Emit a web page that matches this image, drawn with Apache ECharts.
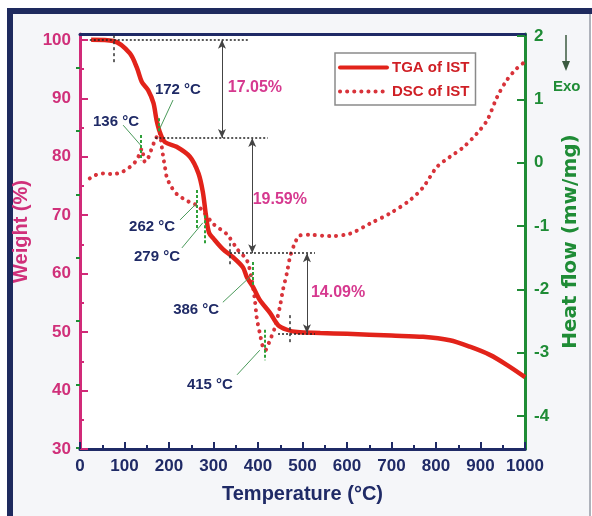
<!DOCTYPE html>
<html>
<head>
<meta charset="utf-8">
<script src="https://cdn.jsdelivr.net/npm/echarts@6/dist/echarts.min.js"></script>
<style>
html,body{margin:0;padding:0;background:#fff;}
#chart{width:592px;height:516px;}
</style>
</head>
<body>
<div id="chart"></div>
<script>
// ---- Data ----
const tgaTemp = [25, 75, 112, 128, 139, 153, 165, 172, 180, 191, 217, 247, 266, 276, 283, 290, 300, 321, 344, 366, 375, 389, 404, 427, 445, 465, 488, 540, 600, 700, 771, 831, 876, 921, 959, 1000];
const tgaWeight = [100, 99.8, 97.7, 95.2, 92.8, 91.4, 89.2, 86.3, 84.1, 82.5, 81.7, 80.0, 77.2, 74.0, 70.0, 67.0, 66.0, 64.2, 62.8, 61.1, 59.4, 57.7, 55.5, 53.3, 51.2, 50.4, 50.0, 49.85, 49.7, 49.4, 49.2, 48.6, 47.5, 46.1, 44.4, 42.3];

const dscTemp = [22, 34, 52, 74, 94, 112, 124, 133, 139, 146, 153, 160, 166, 172, 178, 184, 187, 191, 195, 205, 218, 235, 251, 262, 277, 300, 330, 355, 375, 386, 393, 397, 404, 411, 416, 427, 438, 449, 456, 465, 472, 483, 494, 517, 562, 607, 652, 697, 742, 771, 802, 831, 861, 892, 915, 937, 959, 982, 996];
const dscHeat = [-0.25, -0.20, -0.17, -0.18, -0.15, -0.07, 0.01, 0.12, 0.22, 0.01, 0.07, 0.20, 0.31, 0.40, 0.48, 0.24, 0.09, -0.07, -0.23, -0.38, -0.50, -0.58, -0.64, -0.67, -0.77, -0.97, -1.13, -1.38, -1.54, -1.85, -2.17, -2.44, -2.69, -2.91, -2.96, -2.80, -2.60, -2.28, -2.01, -1.74, -1.49, -1.27, -1.15, -1.14, -1.16, -1.12, -0.96, -0.80, -0.59, -0.39, -0.07, 0.09, 0.24, 0.46, 0.67, 1.03, 1.30, 1.49, 1.57];

const xTicks = [0, 100, 200, 300, 400, 500, 600, 700, 800, 900, 1000];
const weightTicks = [30, 40, 50, 60, 70, 80, 90, 100];
const weightMinor = [35, 45, 55, 65, 75, 85, 95];
const heatTicks = [-4, -3, -2, -1, 0, 1, 2];
const heatMinor = [-4.5, -3.5, -2.5, -1.5, -0.5, 0.5, 1.5];

// Weight-loss annotations: [temperature of arrow, upper weight, lower weight]
const lossSteps = [[319, 100, 83.2], [387, 83.2, 63.5], [510, 63.5, 49.8]];
const lossLabels = ['17.05%', '19.59%', '14.09%'];
const lossLabelPos = [[393, 91.8], [449, 72.6], [580, 56.7]];
// Level guide lines: [weight, from T, to T]
const levelLines = [[100, 22, 377], [83.2, 169, 422], [63.5, 337, 528], [49.7, 445, 528]];
// onset markers: [T, W top, W bottom]
const onsetMarks = [[75, 100.8, 95.7], [337, 65.2, 61.5], [472, 52.9, 47.8]];

// Peak temperature annotations
const peakLabels = ['136 °C', '172 °C', '262 °C', '279 °C', '386 °C', '415 °C'];
const peakLabelPos = [[81, 85.9], [220, 91.4], [162, 68.0], [173, 62.8], [261, 53.8], [292, 40.9]];
const peakLeaders = [[[97, 85.4], [136, 82.0]], [[209, 89.7], [178, 84.6]], [[225, 69.2], [263, 72.1]], [[229, 64.4], [276, 68.7]], [[321, 55.1], [387, 59.8]], [[353, 42.7], [404, 46.9]]];
const peakMarks = [[136, 83.7, 79.4], [178, 86.6, 84.0], [263, 74.3, 67.5], [281, 70.0, 65.0], [389, 62.0, 58.0], [416, 50.4, 45.2]];

// ---- Styles ----
const FONT = 'Arial, "Liberation Sans", sans-serif';
const NAVY = '#1f2a66';
const PINK = '#d0307a';
const GREEN = '#1f8c36';
const RED = '#e2231a';
const DSCRED = '#d8333a';
const MAG = '#d6398f';

const markLineData = [];
levelLines.forEach(l => {
  markLineData.push([{coord: [l[1], l[0]], lineStyle: {color: '#222', type: [2, 2], width: 1.5}}, {coord: [l[2], l[0]]}]);
});
lossSteps.forEach(s => {
  markLineData.push([{coord: [s[0], s[1]], symbol: 'arrow', symbolSize: [6, 9], lineStyle: {color: '#444', type: 'solid', width: 1}},
                     {coord: [s[0], s[2]], symbol: 'arrow', symbolSize: [6, 9]}]);
});
onsetMarks.forEach(m => {
  markLineData.push([{coord: [m[0], m[1]], lineStyle: {color: '#333', type: [3, 3], width: 1.5}}, {coord: [m[0], m[2]]}]);
});
peakLeaders.forEach(p => {
  markLineData.push([{coord: p[0], lineStyle: {color: '#4a9a5a', type: 'solid', width: 1}}, {coord: p[1]}]);
});
peakMarks.forEach(m => {
  markLineData.push([{coord: [m[0], m[1]], lineStyle: {color: '#2fa03a', type: [3, 2], width: 2}}, {coord: [m[0], m[2]]}]);
});

const markPointData = [];
lossLabels.forEach((t, i) => {
  markPointData.push({coord: lossLabelPos[i], value: t, label: {formatter: t, color: MAG, fontSize: 16}});
});
peakLabels.forEach((t, i) => {
  markPointData.push({coord: peakLabelPos[i], value: t, label: {formatter: t, color: NAVY, fontSize: 15}});
});

const chart = echarts.init(document.getElementById('chart'), null, {renderer: 'canvas'});
chart.setOption({
  animation: false,
  textStyle: {fontFamily: FONT},
  grid: {left: 80, right: 67, top: 34, bottom: 67, show: true, backgroundColor: '#fff', borderWidth: 0},
  graphic: [
    {type: 'rect', z: -20, shape: {x: 0, y: 0, width: 592, height: 516}, style: {fill: '#fff'}},
    {type: 'rect', z: -19, shape: {x: 13, y: 14, width: 576, height: 502}, style: {fill: '#f5f6f9'}},
    {type: 'rect', z: -18, shape: {x: 7, y: 8, width: 585, height: 6}, style: {fill: '#1e2a5e'}},
    {type: 'rect', z: -18, shape: {x: 7, y: 8, width: 6, height: 508}, style: {fill: '#1e2a5e'}},
    {type: 'rect', z: -18, shape: {x: 589, y: 14, width: 2, height: 502}, style: {fill: '#aeb2bb'}},
    {type: 'line', shape: {x1: 566, y1: 35, x2: 566, y2: 63}, style: {stroke: '#3b5a40', lineWidth: 1.5}},
    {type: 'polygon', shape: {points: [[562, 61], [570, 61], [566, 71]]}, style: {fill: '#3b5a40'}},
    {type: 'text', x: 553, y: 79, style: {text: 'Exo', fill: GREEN, font: 'bold 15px ' + FONT}}
  ],
  legend: {
    data: ['TGA of IST', 'DSC of IST'],
    orient: 'vertical',
    left: 335, top: 53,
    padding: [7, 6, 6, 3],
    itemGap: 9,
    itemWidth: 47, itemHeight: 14,
    itemStyle: {opacity: 0},
    lineStyle: {width: 4, cap: 'round'},
    backgroundColor: '#fff',
    borderColor: '#8a8a8a', borderWidth: 1.5,
    textStyle: {color: '#cf1f25', fontWeight: 'bold', fontSize: 15, fontFamily: FONT}
  },
  xAxis: [
    {
      type: 'value', position: 'bottom', min: 0, max: 1000, interval: 100,
      name: 'Temperature (°C)', nameLocation: 'middle', nameGap: 35,
      nameTextStyle: {color: NAVY, fontSize: 20, fontWeight: 'bold', fontFamily: FONT},
      axisLine: {show: true, onZero: false, lineStyle: {color: NAVY, width: 3}},
      axisTick: {show: true, inside: true, length: 7, lineStyle: {color: NAVY, width: 2}},
      minorTick: {show: true, splitNumber: 2, length: 4, lineStyle: {color: NAVY, width: 2}},
      axisLabel: {color: NAVY, fontSize: 17, fontWeight: 'bold', margin: 9, fontFamily: FONT, formatter: v => String(v)},
      splitLine: {show: false}
    },
    {
      type: 'value', position: 'top', min: 0, max: 1000,
      axisLine: {show: true, onZero: false, lineStyle: {color: NAVY, width: 3}},
      axisTick: {show: false}, axisLabel: {show: false}, splitLine: {show: false}
    }
  ],
  yAxis: [
    {
      type: 'value', position: 'left', min: 30, max: 101,
      name: 'Weight (%)', nameLocation: 'middle', nameGap: 40, nameRotate: 90,
      nameTextStyle: {color: PINK, fontSize: 20, fontWeight: 'bold', fontFamily: FONT, padding: [0, 0, 0, 20]},
      axisLine: {show: true, onZero: false, lineStyle: {color: '#d12a78', width: 3}},
      axisTick: {show: true, inside: true, length: 8, customValues: weightTicks, lineStyle: {color: '#d12a78', width: 2}},
      axisLabel: {color: PINK, fontSize: 17, fontWeight: 'bold', margin: 9, customValues: weightTicks, fontFamily: FONT},
      splitLine: {show: false}
    },
    {
      type: 'value', position: 'right', min: -4.52, max: 2.03,
      name: 'Heat flow (mw/mg)', nameLocation: 'middle', nameGap: 36, nameRotate: 90,
      nameTextStyle: {color: GREEN, fontSize: 20, fontWeight: 'bold', fontFamily: '"DejaVu Sans", sans-serif'},
      axisLine: {show: true, onZero: false, lineStyle: {color: GREEN, width: 3}},
      axisTick: {show: true, inside: true, length: 8, customValues: heatTicks, lineStyle: {color: GREEN, width: 2}},
      axisLabel: {color: GREEN, fontSize: 17, fontWeight: 'bold', margin: 9, customValues: heatTicks, fontFamily: FONT},
      splitLine: {show: false}
    },
    {
      type: 'value', position: 'left', min: 30, max: 101,
      axisLine: {show: false},
      axisTick: {show: true, inside: true, length: 4, customValues: weightMinor, lineStyle: {color: '#d12a78', width: 2}},
      axisLabel: {show: false}, splitLine: {show: false}
    },
    {
      type: 'value', position: 'right', min: -4.52, max: 2.03,
      axisLine: {show: false},
      axisTick: {show: true, inside: true, length: 4, customValues: heatMinor, lineStyle: {color: GREEN, width: 2}},
      axisLabel: {show: false}, splitLine: {show: false}
    }
  ],
  series: [
    {
      name: 'DSC of IST', type: 'line', xAxisIndex: 0, yAxisIndex: 1,
      data: dscTemp.map((t, i) => [t, dscHeat[i]]),
      symbol: 'none', showSymbol: false, smooth: 0.3,
      lineStyle: {color: DSCRED, width: 4, type: [0.1, 7], cap: 'round'},
      itemStyle: {color: DSCRED},
      z: 2
    },
    {
      name: 'TGA of IST', type: 'line', xAxisIndex: 0, yAxisIndex: 0,
      data: tgaTemp.map((t, i) => [t, tgaWeight[i]]),
      symbol: 'none', showSymbol: false, smooth: 0.3,
      lineStyle: {color: RED, width: 4.5},
      itemStyle: {color: RED},
      z: 3,
      markLine: {
        silent: true, symbol: ['none', 'none'], label: {show: false},
        animation: false, data: markLineData
      },
      markPoint: {
        silent: true, symbol: 'circle', symbolSize: 1,
        itemStyle: {color: 'rgba(0,0,0,0)'},
        label: {show: true, position: 'inside', fontWeight: 'bold', fontFamily: FONT},
        data: markPointData
      }
    }
  ]
});
</script>
</body>
</html>
